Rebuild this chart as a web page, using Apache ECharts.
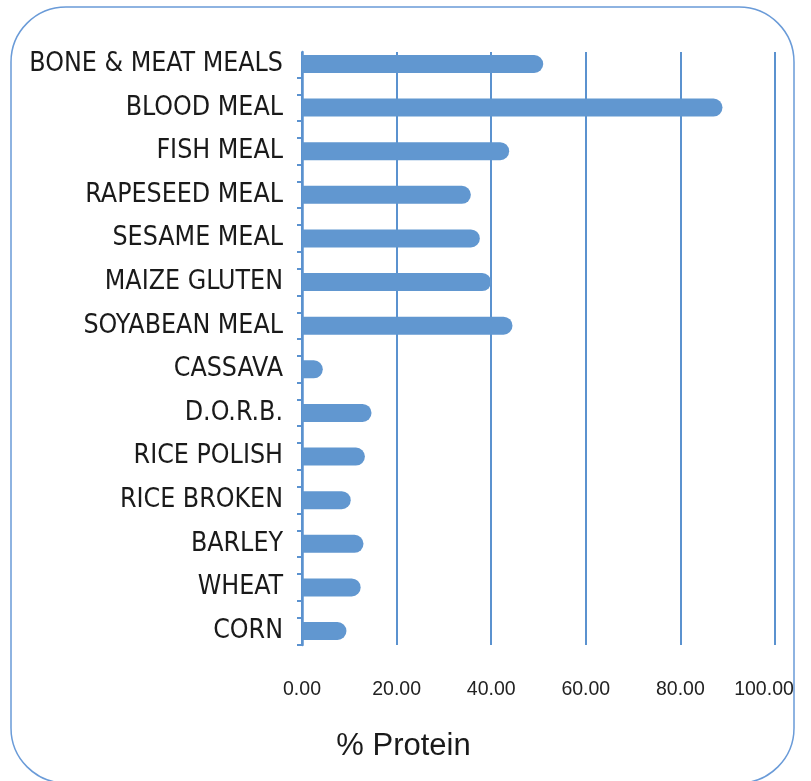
<!DOCTYPE html>
<html>
<head>
<meta charset="utf-8">
<script src="https://cdn.jsdelivr.net/npm/echarts@6/dist/echarts.min.js"></script>
<style>
html,body{margin:0;padding:0;background:#fff;}
#chart{width:811px;height:781px;}
</style>
</head>
<body>
<div id="chart"></div>
<script>
const categories = ['BONE & MEAT MEALS','BLOOD MEAL','FISH MEAL','RAPESEED MEAL','SESAME MEAL','MAIZE GLUTEN','SOYABEAN MEAL','CASSAVA','D.O.R.B.','RICE POLISH','RICE BROKEN','BARLEY','WHEAT','CORN'];
const protein = [51.0, 88.9, 43.8, 35.7, 37.6, 40.0, 44.5, 4.4, 14.7, 13.3, 10.3, 13.0, 12.4, 9.4];
const xTicks = [0, 20, 40, 60, 80, 100];
const axisTitle = '% Protein';

const BLUE = '#6197d0';
const LINE = '#5b92cf';

// decorative tick pairs around each category slot (in index units)
const tickVals = [];
categories.forEach((c, i) => { tickVals.push(i - 0.305, i + 0.305); });

const chart = echarts.init(document.getElementById('chart'));
chart.setOption({
  animation: false,
  backgroundColor: '#ffffff',
  graphic: [{
    type: 'rect',
    shape: { x: 11, y: 7, width: 783, height: 776, r: 55 },
    style: { fill: 'none', stroke: '#6a9bd8', lineWidth: 1.5 },
    z: 0
  }],
  grid: [
    { left: 302, width: 473, top: 42.2, height: 610.6, containLabel: false, outerBoundsMode: 'none' },
    { left: 302, width: 473, top: 52, height: 593, containLabel: false, outerBoundsMode: 'none' }
  ],
  xAxis: [
    { gridIndex: 0, type: 'value', min: 0, max: 100, show: false },
    {
      gridIndex: 1, type: 'value', min: xTicks[0], max: xTicks[xTicks.length - 1], interval: 20,
      axisLine: { show: false }, axisTick: { show: false },
      splitLine: { show: true, lineStyle: { color: LINE, width: 2 } },
      axisLabel: {
        margin: 35, color: '#222', fontFamily: 'Liberation Sans, Arial, sans-serif', fontSize: 19.5,
        formatter: v => v === 100 ? '{last|' + v.toFixed(2) + '}' : v.toFixed(2),
        rich: { last: { padding: [0, 22, 0, 0], color: '#222', fontFamily: 'Liberation Sans, Arial, sans-serif', fontSize: 19.5 } }
      },
      name: axisTitle, nameLocation: 'middle', nameGap: 86,
      nameTextStyle: { color: '#1a1a1a', fontFamily: 'Liberation Sans, Arial, sans-serif', fontSize: 31, padding: [0, 270, 0, 0] }
    }
  ],
  yAxis: [
    {
      gridIndex: 0, type: 'category', data: categories, inverse: true,
      axisLine: { show: false }, axisTick: { show: false }, splitLine: { show: false },
      axisLabel: { margin: 19, color: '#1a1a1a', fontFamily: '"DejaVu Sans Condensed", "Liberation Sans Narrow", sans-serif', fontSize: 26.5 }
    },
    {
      gridIndex: 1, type: 'value', inverse: true, min: -0.275, max: 13.321,
      axisLine: { show: true, onZero: false, lineStyle: { color: LINE, width: 2.5 } },
      axisTick: { show: true, length: 5, customValues: tickVals, lineStyle: { color: LINE, width: 2 } },
      axisLabel: { show: false }, splitLine: { show: false }
    }
  ],
  series: [{
    type: 'bar', xAxisIndex: 0, yAxisIndex: 0, data: protein,
    barWidth: 18,
    itemStyle: { color: BLUE, borderRadius: [0, 9, 9, 0] },
    z: 3
  }]
});
</script>
</body>
</html>
